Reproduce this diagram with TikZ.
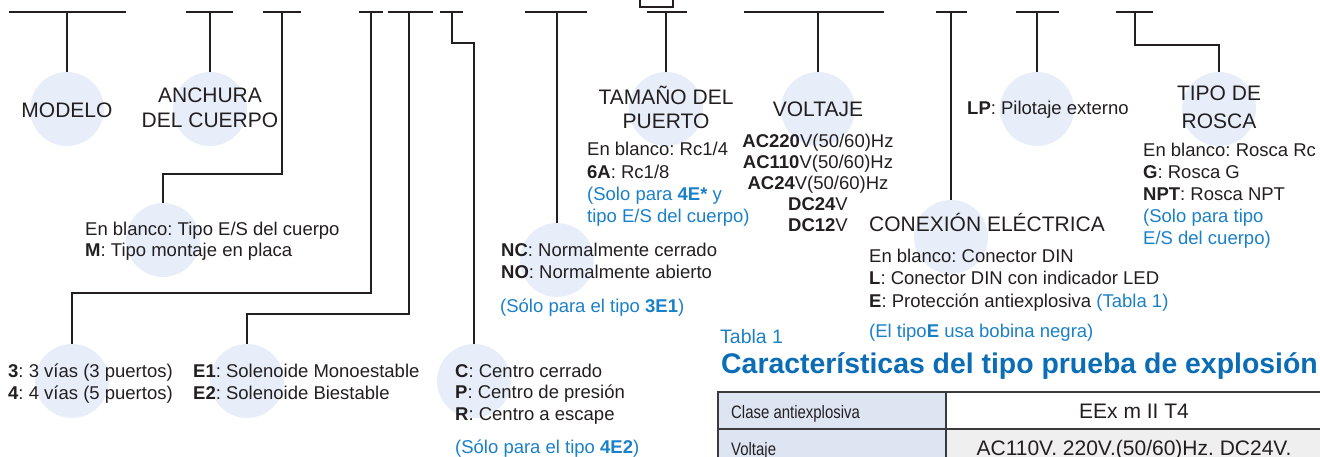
\documentclass[tikz,border=0pt]{standalone}
\usepackage{fontspec}
\setmainfont{Liberation Sans}
\newfontfamily\narrowfont[FakeStretch=0.83]{Liberation Sans}
\frenchspacing
\definecolor{ink}{HTML}{231F20}
\definecolor{dotfill}{HTML}{E7EEF9}
\definecolor{noteblue}{HTML}{1A80C8}
\definecolor{titleblue}{HTML}{0A6DB5}
\definecolor{cellblue}{HTML}{DDE5F3}
\definecolor{cellgrey}{HTML}{EFEFEF}
\definecolor{rulegrey}{HTML}{3A3A3A}
% line stacks whose baseline is the first line
\newcommand{\leftstack}[1]{\vtop{\halign{##\hfil\cr#1\crcr}}}
\newcommand{\centstack}[1]{\vtop{\halign{\hfil##\hfil\cr#1\crcr}}}

\begin{document}
\begin{tikzpicture}[x=1pt, y=-1pt,
    line/.style={line width=1.4pt, draw=ink},
    dot/.style={circle, fill=dotfill, minimum size=74pt, inner sep=0pt},
    head/.style={font=\fontsize{21}{25}\selectfont, text=ink, inner sep=0pt, anchor=base},
    txt/.style={font=\fontsize{18.5}{21.5}\selectfont, text=ink, inner sep=0pt, anchor=base west},
    note/.style={txt, text=noteblue},
    cell/.style={font=\narrowfont\fontsize{18}{20}\selectfont, text=ink, inner sep=0pt, anchor=base west},
    val/.style={font=\fontsize{21}{24}\selectfont, text=ink, inner sep=0pt, anchor=base}]
                \useasboundingbox (0,0) rectangle (1320,457);

                % Circles
                \node[dot] (modelo) at (67,109) {};
                \node[dot] (anchura) at (210,109) {};
                \node[dot] (cuerpo) at (163,240) {};
                \node[dot] (vias) at (72,381) {};
                \node[dot] (solen) at (247,381) {};
                \node[dot] (centro) at (474,381) {};
                \node[dot] (normal) at (557,260) {};
                \node[dot] (puerto) at (666,109) {};
                \node[dot] (voltaje) at (818,109) {};
                \node[dot] (conex) at (951,237) {};
                \node[dot] (piloto) at (1037,109) {};
                \node[dot] (rosca) at (1219,109) {};

                % Code bars
                \draw[line] (9,12) -- (126,12);
                \draw[line] (186,12) -- (233,12);
                \draw[line] (263,12) -- (301,12);
                \draw[line] (359,12) -- (383,12);
                \draw[line] (388,12) -- (433,12);
                \draw[line] (440,12) -- (463,12);
                \draw[line] (525,12) -- (587,12);
                \draw[line] (640,-10) rectangle (673,7);
                \draw[line] (647,12) -- (687,12);
                \draw[line] (744,12) -- (884,12);
                \draw[line] (936,12) -- (967,12);
                \draw[line] (1016,12) -- (1059,12);
                \draw[line] (1116,12) -- (1153,12);

                \coordinate (tModelo) at (67,12);
                \coordinate (tAnchura) at (210,12);
                \coordinate (tCuerpo) at (282,12);
                \coordinate (kCuerpo) at (282,174);
                \coordinate (tVias) at (371,12);
                \coordinate (kVias) at (371,293);
                \coordinate (tSolen) at (409,12);
                \coordinate (kSolen) at (409,314);
                \coordinate (tCentro) at (452,12);
                \coordinate (kCentro) at (452,43);
                \coordinate (tNormal) at (557,12);
                \coordinate (tPuerto) at (666,12);
                \coordinate (tVoltaje) at (818,12);
                \coordinate (tConex) at (951,12);
                \coordinate (tPiloto) at (1037,12);
                \coordinate (tRosca) at (1135,12);
                \coordinate (kRosca) at (1135,45);

                % Edges
                \draw[line] (tModelo) -- (modelo.north);
                \draw[line] (tAnchura) -- (anchura.north);
                \draw[line] (tCuerpo) -- (kCuerpo) -| (cuerpo.north);
                \draw[line] (tVias) -- (kVias) -| (vias.north);
                \draw[line] (tSolen) -- (kSolen) -| (solen.north);
                \draw[line] (tCentro) -- (kCentro) -| (centro.north);
                \draw[line] (tNormal) -- (normal.north);
                \draw[line] (tPuerto) -- (puerto.north);
                \draw[line] (tVoltaje) -- (voltaje.north);
                \draw[line] (tConex) -- (conex.north);
                \draw[line] (tPiloto) -- (piloto.north);
                \draw[line] (tRosca) -- (kRosca) -| (rosca.north);

                % Labels
                \node[head] (modeloT) at (67,118) {MODELO};
                \node[head] (anchuraT) at (210,103) {\centstack{ANCHURA\cr DEL CUERPO}};
                \node[txt, font=\fontsize{18.5}{21}\selectfont] (cuerpoT) at (85,236) {\leftstack{En blanco: Tipo E/S del cuerpo\cr \textbf{M}: Tipo montaje en placa}};
                \node[txt, font=\fontsize{18.5}{22}\selectfont] (viasT) at (8,377) {\leftstack{\textbf{3}: 3 vías (3 puertos)\cr \textbf{4}: 4 vías (5 puertos)}};
                \node[txt, font=\fontsize{18.5}{22}\selectfont] (solenT) at (193,377) {\leftstack{\textbf{E1}: Solenoide Monoestable\cr \textbf{E2}: Solenoide Biestable}};
                \node[txt] (centroT) at (455,377) {\leftstack{\textbf{C}: Centro cerrado\cr \textbf{P}: Centro de presión\cr \textbf{R}: Centro a escape}};
                \node[note] (centroN) at (455,453) {(Sólo para el tipo \textbf{4E2})};
                \node[txt, font=\fontsize{18.5}{21}\selectfont] (normalT) at (501,257) {\leftstack{\textbf{NC}: Normalmente cerrado\cr \textbf{NO}: Normalmente abierto}};
                \node[note] (normalN) at (500,312) {(Sólo para el tipo \textbf{3E1})};
                \node[head, font=\fontsize{21}{24}\selectfont] (puertoT) at (666,105) {\centstack{TAMAÑO DEL\cr PUERTO}};
                \node[txt, font=\fontsize{18.5}{22.3}\selectfont] (puertoL) at (587,156) {\leftstack{En blanco: Rc1/4\cr \textbf{6A}: Rc1/8\cr \textcolor{noteblue}{(Solo para \textbf{4E*} y}\cr \textcolor{noteblue}{tipo E/S del cuerpo)}}};
                \node[head] (voltajeT) at (818,117) {VOLTAJE};
                \node[txt, anchor=base, font=\fontsize{18.5}{21}\selectfont] (voltajeL) at (818,148) {\centstack{\textbf{AC220}V(50/60)Hz\cr \textbf{AC110}V(50/60)Hz\cr \textbf{AC24}V(50/60)Hz\cr \textbf{DC24}V\cr \textbf{DC12}V}};
                \node[head, anchor=base west] (conexT) at (869,232) {CONEXIÓN ELÉCTRICA};
                \node[txt, font=\fontsize{18.5}{22.5}\selectfont] (conexL) at (869,262) {\leftstack{En blanco: Conector DIN\cr \textbf{L}: Conector DIN con indicador LED\cr \textbf{E}: Protección antiexplosiva \textcolor{noteblue}{(Tabla 1)}}};
                \node[note] (conexN) at (869,337) {(El tipo\textbf{E} usa bobina negra)};
                \node[txt] (pilotoT) at (967,115) {\textbf{LP}: Pilotaje externo};
                \node[head, font=\fontsize{21}{27.5}\selectfont] (roscaT) at (1219,101) {\centstack{TIPO DE\cr ROSCA}};
                \node[txt, font=\fontsize{18.5}{22}\selectfont] (roscaL) at (1143,157) {\leftstack{En blanco: Rosca Rc\cr \textbf{G}: Rosca G\cr \textbf{NPT}: Rosca NPT\cr \textcolor{noteblue}{(Solo para tipo}\cr \textcolor{noteblue}{E/S del cuerpo)}}};

                % Table 1
                \node[note, font=\fontsize{19.5}{22}\selectfont] (tablaT) at (720,343) {Tabla 1};
                \node[txt, text=titleblue, font=\bfseries\fontsize{28.4}{30}\selectfont] (tablaH) at (721,373) {Características del tipo prueba de explosión};
                \fill[cellblue] (718,392) rectangle (946,470);
                \fill[cellgrey] (946,429) rectangle (1324,470);
                \draw[line width=1.4pt, draw=rulegrey] (718,470) -- (718,392) -- (1324,392);
                \draw[line width=1.4pt, draw=rulegrey] (718,429) -- (1324,429);
                \draw[line width=1.4pt, draw=rulegrey] (946,392) -- (946,470);
                \node[cell] (claseT) at (731,418) {Clase antiexplosiva};
                \node[val] (claseV) at (1134,418) {EEx m II T4};
                \node[cell] (voltT) at (731,455) {Voltaje};
                \node[val] (voltV) at (1134,455) {AC110V. 220V.(50/60)Hz. DC24V.};
            \end{tikzpicture}
\end{document}
